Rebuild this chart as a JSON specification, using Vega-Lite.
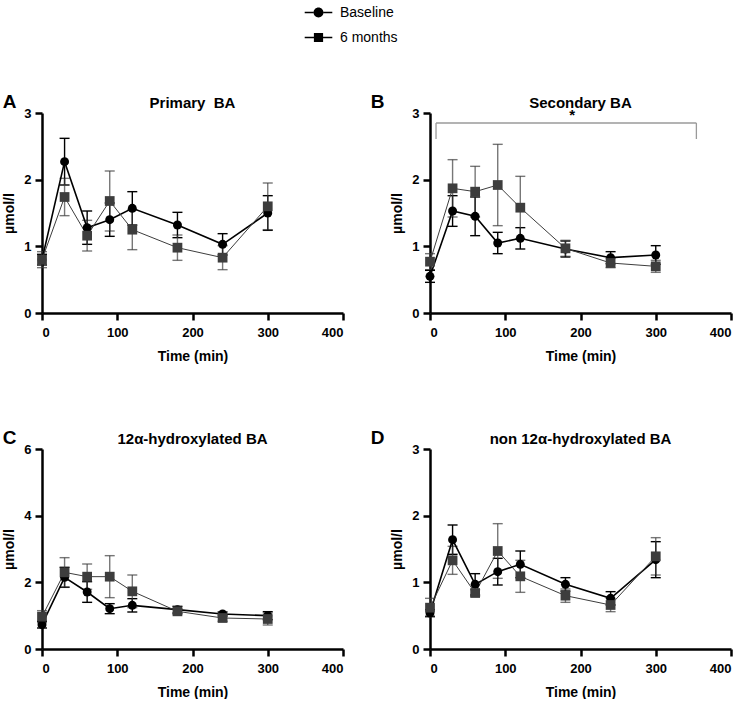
{
  "$schema": "https://vega.github.io/schema/vega-lite/v6.json",
  "padding": {"left": 2, "top": 0, "right": 0, "bottom": 0},
  "config": {
    "font": "Liberation Sans",
    "view": {"stroke": null},
    "axis": {"domainColor": "#000", "domainWidth": 2.5, "tickColor": "#000", "tickWidth": 2.5, "tickSize": 7, "labelFont": "Liberation Sans", "labelFontWeight": "bold", "labelFontSize": 13, "labelColor": "#000", "titleFont": "Liberation Sans", "titleFontSize": 14, "titleFontWeight": "bold", "titleColor": "#000", "grid": false},
    "axisX": {"titlePadding": 10, "labelPadding": 6},
    "axisY": {"titlePadding": 7, "labelPadding": 4},
    "title": {"font": "Liberation Sans", "fontSize": 15, "fontWeight": "bold", "color": "#000", "offset": -4},
    "legend": {"labelFont": "Liberation Sans", "labelFontSize": 14, "labelColor": "#000", "symbolSize": 529, "rowPadding": 4, "labelOffset": 9, "padding": 0, "symbolFillColor": "#000", "symbolStrokeColor": "#000"}
  },
  "data": {"values": [
    {"panel": "A", "series": "Baseline", "t": 0, "v": 0.80, "e": 0.08},
    {"panel": "A", "series": "Baseline", "t": 30, "v": 2.27, "e": 0.35},
    {"panel": "A", "series": "Baseline", "t": 60, "v": 1.28, "e": 0.25},
    {"panel": "A", "series": "Baseline", "t": 90, "v": 1.40, "e": 0.25},
    {"panel": "A", "series": "Baseline", "t": 120, "v": 1.57, "e": 0.25},
    {"panel": "A", "series": "Baseline", "t": 180, "v": 1.32, "e": 0.19},
    {"panel": "A", "series": "Baseline", "t": 240, "v": 1.03, "e": 0.16},
    {"panel": "A", "series": "Baseline", "t": 300, "v": 1.50, "e": 0.26},
    {"panel": "A", "series": "6 months", "t": 0, "v": 0.80, "e": 0.12},
    {"panel": "A", "series": "6 months", "t": 30, "v": 1.74, "e": 0.28},
    {"panel": "A", "series": "6 months", "t": 60, "v": 1.16, "e": 0.23},
    {"panel": "A", "series": "6 months", "t": 90, "v": 1.68, "e": 0.45},
    {"panel": "A", "series": "6 months", "t": 120, "v": 1.25, "e": 0.30},
    {"panel": "A", "series": "6 months", "t": 180, "v": 0.98, "e": 0.19},
    {"panel": "A", "series": "6 months", "t": 240, "v": 0.83, "e": 0.18},
    {"panel": "A", "series": "6 months", "t": 300, "v": 1.60, "e": 0.35},
    {"panel": "B", "series": "Baseline", "t": 0, "v": 0.55, "e": 0.09},
    {"panel": "B", "series": "Baseline", "t": 30, "v": 1.53, "e": 0.23},
    {"panel": "B", "series": "Baseline", "t": 60, "v": 1.45, "e": 0.29},
    {"panel": "B", "series": "Baseline", "t": 90, "v": 1.05, "e": 0.16},
    {"panel": "B", "series": "Baseline", "t": 120, "v": 1.12, "e": 0.16},
    {"panel": "B", "series": "Baseline", "t": 180, "v": 0.96, "e": 0.12},
    {"panel": "B", "series": "Baseline", "t": 240, "v": 0.83, "e": 0.09},
    {"panel": "B", "series": "Baseline", "t": 300, "v": 0.87, "e": 0.14},
    {"panel": "B", "series": "6 months", "t": 0, "v": 0.77, "e": 0.12},
    {"panel": "B", "series": "6 months", "t": 30, "v": 1.87, "e": 0.43},
    {"panel": "B", "series": "6 months", "t": 60, "v": 1.82, "e": 0.38},
    {"panel": "B", "series": "6 months", "t": 90, "v": 1.92, "e": 0.61},
    {"panel": "B", "series": "6 months", "t": 120, "v": 1.58, "e": 0.47},
    {"panel": "B", "series": "6 months", "t": 180, "v": 0.97, "e": 0.12},
    {"panel": "B", "series": "6 months", "t": 240, "v": 0.75, "e": 0.07},
    {"panel": "B", "series": "6 months", "t": 300, "v": 0.70, "e": 0.09},
    {"panel": "C", "series": "Baseline", "t": 0, "v": 0.73, "e": 0.10},
    {"panel": "C", "series": "Baseline", "t": 30, "v": 2.15, "e": 0.30},
    {"panel": "C", "series": "Baseline", "t": 60, "v": 1.71, "e": 0.31},
    {"panel": "C", "series": "Baseline", "t": 90, "v": 1.21, "e": 0.15},
    {"panel": "C", "series": "Baseline", "t": 120, "v": 1.31, "e": 0.20},
    {"panel": "C", "series": "Baseline", "t": 180, "v": 1.18, "e": 0.10},
    {"panel": "C", "series": "Baseline", "t": 240, "v": 1.05, "e": 0.06},
    {"panel": "C", "series": "Baseline", "t": 300, "v": 1.00, "e": 0.12},
    {"panel": "C", "series": "6 months", "t": 0, "v": 0.97, "e": 0.18},
    {"panel": "C", "series": "6 months", "t": 30, "v": 2.30, "e": 0.44},
    {"panel": "C", "series": "6 months", "t": 60, "v": 2.17, "e": 0.38},
    {"panel": "C", "series": "6 months", "t": 90, "v": 2.17, "e": 0.63},
    {"panel": "C", "series": "6 months", "t": 120, "v": 1.73, "e": 0.49},
    {"panel": "C", "series": "6 months", "t": 180, "v": 1.13, "e": 0.08},
    {"panel": "C", "series": "6 months", "t": 240, "v": 0.93, "e": 0.10},
    {"panel": "C", "series": "6 months", "t": 300, "v": 0.90, "e": 0.18},
    {"panel": "D", "series": "Baseline", "t": 0, "v": 0.54, "e": 0.05},
    {"panel": "D", "series": "Baseline", "t": 30, "v": 1.64, "e": 0.22},
    {"panel": "D", "series": "Baseline", "t": 60, "v": 0.97, "e": 0.16},
    {"panel": "D", "series": "Baseline", "t": 90, "v": 1.16, "e": 0.20},
    {"panel": "D", "series": "Baseline", "t": 120, "v": 1.27, "e": 0.20},
    {"panel": "D", "series": "Baseline", "t": 180, "v": 0.97, "e": 0.10},
    {"panel": "D", "series": "Baseline", "t": 240, "v": 0.76, "e": 0.10},
    {"panel": "D", "series": "Baseline", "t": 300, "v": 1.34, "e": 0.27},
    {"panel": "D", "series": "6 months", "t": 0, "v": 0.62, "e": 0.14},
    {"panel": "D", "series": "6 months", "t": 30, "v": 1.33, "e": 0.21},
    {"panel": "D", "series": "6 months", "t": 60, "v": 0.84, "e": 0.05},
    {"panel": "D", "series": "6 months", "t": 90, "v": 1.47, "e": 0.41},
    {"panel": "D", "series": "6 months", "t": 120, "v": 1.09, "e": 0.24},
    {"panel": "D", "series": "6 months", "t": 180, "v": 0.80, "e": 0.10},
    {"panel": "D", "series": "6 months", "t": 240, "v": 0.66, "e": 0.10},
    {"panel": "D", "series": "6 months", "t": 300, "v": 1.39, "e": 0.28}
  ]},
  "resolve": {"scale": {"shape": "independent"}},
  "spacing": 47,
  "vconcat": [
    {"width": 10, "height": 30,
     "transform": [{"filter": "false"}],
     "mark": {"type": "point", "filled": true, "fill": "#000", "opacity": 1},
     "encoding": {"shape": {"field": "series", "type": "nominal", "scale": {"domain": ["Baseline", "6 months"], "range": ["M-1.2,-0.06H-0.42V0.06H-1.2Z M0.42,-0.06H1.2V0.06H0.42Z M-0.43,0A0.43,0.43 0 1,0 0.43,0A0.43,0.43 0 1,0 -0.43,0Z", "M-1.2,-0.06H-0.4V0.06H-1.2Z M0.4,-0.06H1.2V0.06H0.4Z M-0.4,-0.4H0.4V0.4H-0.4Z"]}, "legend": {"title": null, "orient": "none", "legendX": 264, "legendY": 0}}}},
    {"spacing": 66, "vconcat": [
    {"hconcat": [
      {"title": {"text": "A", "anchor": "start", "frame": "bounds", "fontSize": 19, "offset": 0, "dy": 16, "dx": 0},
       "vconcat": [{
        "title": {"text": "Primary\u00a0\u00a0BA"},
        "width": 301, "height": 200,
        "transform": [{"filter": "datum.panel === 'A'"}],
        "encoding": {
          "x": {"field": "t", "type": "quantitative", "scale": {"domain": [0, 400], "nice": false}, "axis": {"values": [0, 100, 200, 300, 400], "title": "Time (min)"}},
          "y": {"field": "v", "type": "quantitative", "scale": {"domain": [0, 3], "nice": false}, "axis": {"values": [0, 1, 2, 3], "title": "µmol/l"}}
        },
        "layer": [
          {"mark": {"type": "errorbar", "ticks": {"size": 10}, "thickness": 1.4},
           "encoding": {"yError": {"field": "e"}, "color": {"field": "series", "type": "nominal", "scale": {"domain": ["Baseline", "6 months"], "range": ["#000000", "#3d3d3d"]}, "legend": null}, "opacity": {"field": "series", "type": "nominal", "scale": {"domain": ["Baseline", "6 months"], "range": [1, 0.7]}, "legend": null}}},
          {"mark": {"type": "line"},
           "encoding": {"color": {"field": "series", "type": "nominal", "legend": null}, "strokeWidth": {"field": "series", "type": "nominal", "scale": {"domain": ["Baseline", "6 months"], "range": [1.6, 1]}, "legend": null}}},
          {"mark": {"type": "point", "filled": true, "opacity": 1},
           "encoding": {"color": {"field": "series", "type": "nominal", "legend": null},
             "shape": {"field": "series", "type": "nominal", "scale": {"domain": ["Baseline", "6 months"], "range": ["circle", "square"]}, "legend": null},
             "size": {"field": "series", "type": "nominal", "scale": {"domain": ["Baseline", "6 months"], "range": [80, 95]}, "legend": null}}}
        ]
      }]},
      {"title": {"text": "B", "anchor": "start", "frame": "bounds", "fontSize": 19, "offset": 0, "dy": 16, "dx": -20},
       "vconcat": [{
        "title": {"text": "Secondary BA"},
        "width": 301, "height": 200,
        "encoding": {
          "x": {"field": "t", "type": "quantitative", "scale": {"domain": [0, 400], "nice": false}, "axis": {"values": [0, 100, 200, 300, 400], "title": "Time (min)"}},
          "y": {"field": "v", "type": "quantitative", "scale": {"domain": [0, 3], "nice": false}, "axis": {"values": [0, 1, 2, 3], "title": "µmol/l"}}
        },
        "layer": [
          {"data": {"values": [{"t": 8, "t2": 354, "v": 2.85, "v2": 2.85}, {"t": 8, "t2": 8, "v": 2.61, "v2": 2.85}, {"t": 354, "t2": 354, "v": 2.61, "v2": 2.85}]},
           "mark": {"type": "rule", "color": "#9a9a9a", "strokeWidth": 1.3},
           "encoding": {"x2": {"field": "t2"}, "y2": {"field": "v2"}}},
          {"data": {"values": [{"t": 189, "v": 2.97, "label": "*"}]},
           "mark": {"type": "text", "fontSize": 15, "fontWeight": "bold", "color": "#000", "baseline": "middle"},
           "encoding": {"text": {"field": "label"}}},
          {"transform": [{"filter": "datum.panel === 'B'"}],
           "mark": {"type": "errorbar", "ticks": {"size": 10}, "thickness": 1.4},
           "encoding": {"yError": {"field": "e"}, "color": {"field": "series", "type": "nominal", "legend": null}, "opacity": {"field": "series", "type": "nominal", "legend": null}}},
          {"transform": [{"filter": "datum.panel === 'B'"}],
           "mark": {"type": "line"},
           "encoding": {"color": {"field": "series", "type": "nominal", "legend": null}, "strokeWidth": {"field": "series", "type": "nominal", "legend": null}}},
          {"transform": [{"filter": "datum.panel === 'B'"}],
           "mark": {"type": "point", "filled": true, "opacity": 1},
           "encoding": {"color": {"field": "series", "type": "nominal", "legend": null},
             "shape": {"field": "series", "type": "nominal", "scale": {"domain": ["Baseline", "6 months"], "range": ["circle", "square"]}, "legend": null},
             "size": {"field": "series", "type": "nominal", "legend": null}}}
        ]
      }]}
    ], "spacing": 25},
    {"hconcat": [
      {"title": {"text": "C", "anchor": "start", "frame": "bounds", "fontSize": 19, "offset": 0, "dy": 16, "dx": 0},
       "vconcat": [{
        "title": {"text": "12α-hydroxylated BA"},
        "width": 301, "height": 200,
        "transform": [{"filter": "datum.panel === 'C'"}],
        "encoding": {
          "x": {"field": "t", "type": "quantitative", "scale": {"domain": [0, 400], "nice": false}, "axis": {"values": [0, 100, 200, 300, 400], "title": "Time (min)"}},
          "y": {"field": "v", "type": "quantitative", "scale": {"domain": [0, 6], "nice": false}, "axis": {"values": [0, 2, 4, 6], "title": "µmol/l"}}
        },
        "layer": [
          {"mark": {"type": "errorbar", "ticks": {"size": 10}, "thickness": 1.4},
           "encoding": {"yError": {"field": "e"}, "color": {"field": "series", "type": "nominal", "legend": null}, "opacity": {"field": "series", "type": "nominal", "legend": null}}},
          {"mark": {"type": "line"},
           "encoding": {"color": {"field": "series", "type": "nominal", "legend": null}, "strokeWidth": {"field": "series", "type": "nominal", "legend": null}}},
          {"mark": {"type": "point", "filled": true, "opacity": 1},
           "encoding": {"color": {"field": "series", "type": "nominal", "legend": null},
             "shape": {"field": "series", "type": "nominal", "scale": {"domain": ["Baseline", "6 months"], "range": ["circle", "square"]}, "legend": null},
             "size": {"field": "series", "type": "nominal", "legend": null}}}
        ]
      }]},
      {"title": {"text": "D", "anchor": "start", "frame": "bounds", "fontSize": 19, "offset": 0, "dy": 16, "dx": -20},
       "vconcat": [{
        "title": {"text": "non 12α-hydroxylated BA"},
        "width": 301, "height": 200,
        "transform": [{"filter": "datum.panel === 'D'"}],
        "encoding": {
          "x": {"field": "t", "type": "quantitative", "scale": {"domain": [0, 400], "nice": false}, "axis": {"values": [0, 100, 200, 300, 400], "title": "Time (min)"}},
          "y": {"field": "v", "type": "quantitative", "scale": {"domain": [0, 3], "nice": false}, "axis": {"values": [0, 1, 2, 3], "title": "µmol/l"}}
        },
        "layer": [
          {"mark": {"type": "errorbar", "ticks": {"size": 10}, "thickness": 1.4},
           "encoding": {"yError": {"field": "e"}, "color": {"field": "series", "type": "nominal", "legend": null}, "opacity": {"field": "series", "type": "nominal", "legend": null}}},
          {"mark": {"type": "line"},
           "encoding": {"color": {"field": "series", "type": "nominal", "legend": null}, "strokeWidth": {"field": "series", "type": "nominal", "legend": null}}},
          {"mark": {"type": "point", "filled": true, "opacity": 1},
           "encoding": {"color": {"field": "series", "type": "nominal", "legend": null},
             "shape": {"field": "series", "type": "nominal", "scale": {"domain": ["Baseline", "6 months"], "range": ["circle", "square"]}, "legend": null},
             "size": {"field": "series", "type": "nominal", "legend": null}}}
        ]
      }]}
    ], "spacing": 25}
    ]}
  ]
}
